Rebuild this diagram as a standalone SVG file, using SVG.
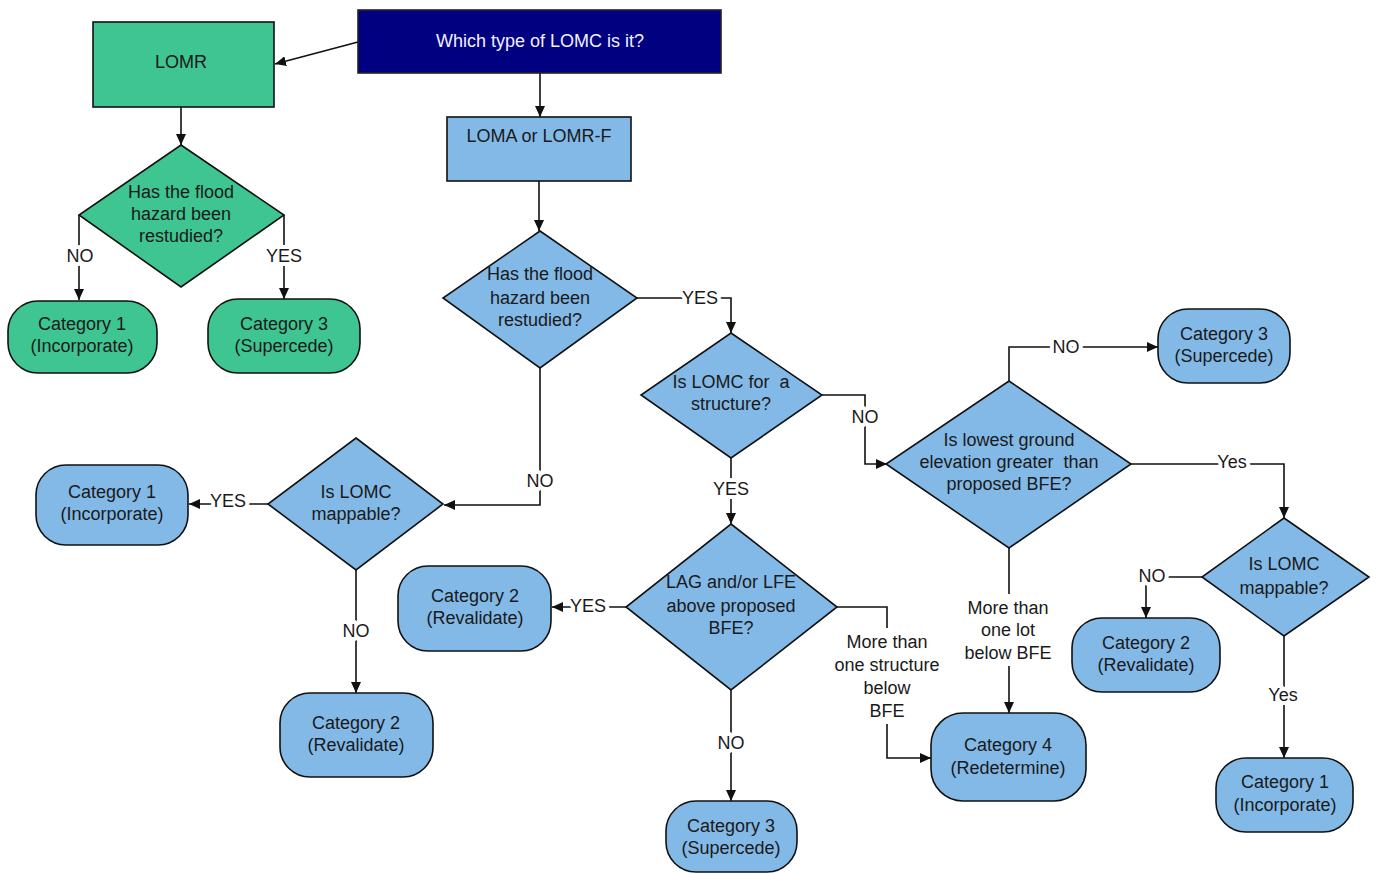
<svg xmlns="http://www.w3.org/2000/svg" width="1377" height="873" viewBox="0 0 1377 873">
<style>
.t{font-family:"Liberation Sans",Arial,sans-serif;font-size:18px;fill:#1a1a1a;text-anchor:middle}
.w{fill:#f0f0ff}
.g{fill:#3fc592;stroke:#111;stroke-width:1.6}
.b{fill:#83b9e7;stroke:#111;stroke-width:1.6}
.n{fill:#000080;stroke:#222;stroke-width:1.6}
.c{fill:none;stroke:#111;stroke-width:1.6}
.bg{fill:#fff}
.l{font-family:"Liberation Sans",Arial,sans-serif;font-size:18px;fill:#1a1a1a;text-anchor:middle;stroke:#fff;stroke-width:8;paint-order:stroke;stroke-linejoin:round}
</style>
<defs>
<marker id="a" markerUnits="userSpaceOnUse" markerWidth="11" markerHeight="10" refX="11" refY="5" orient="auto">
<path d="M0,0 L11,5 L0,10 z" fill="#111"/>
</marker>
</defs>
<rect width="1377" height="873" fill="#fff"/>
<g id="connectors">
<path class="c" d="M358,42 L275,64" marker-end="url(#a)"/>
<path class="c" d="M540,73 L540,117" marker-end="url(#a)"/>
<path class="c" d="M181,107 L181,145" marker-end="url(#a)"/>
<path class="c" d="M79,215 L79,300" marker-end="url(#a)"/>
<text class="l" x="80" y="262">NO</text>
<path class="c" d="M284,215 L284,299" marker-end="url(#a)"/>
<text class="l" x="284" y="262">YES</text>
<path class="c" d="M539,181 L539,231" marker-end="url(#a)"/>
<path class="c" d="M637,298 L731,298 L731,333" marker-end="url(#a)"/>
<text class="l" x="700" y="304">YES</text>
<path class="c" d="M540,368 L540,505 L444,505" marker-end="url(#a)"/>
<text class="l" x="540" y="487">NO</text>
<path class="c" d="M822,395 L865,395 L865,464 L887,464" marker-end="url(#a)"/>
<text class="l" x="865" y="423">NO</text>
<path class="c" d="M731,458 L731,524" marker-end="url(#a)"/>
<text class="l" x="731" y="495">YES</text>
<path class="c" d="M268,504 L189,504" marker-end="url(#a)"/>
<text class="l" x="228" y="507">YES</text>
<path class="c" d="M356,570 L356,693" marker-end="url(#a)"/>
<text class="l" x="356" y="637">NO</text>
<path class="c" d="M626,607 L552,607" marker-end="url(#a)"/>
<text class="l" x="588" y="612">YES</text>
<path class="c" d="M731,690 L731,801" marker-end="url(#a)"/>
<text class="l" x="731" y="749">NO</text>
<path class="c" d="M837,607 L887,607 L887,758 L931,758" marker-end="url(#a)"/>
<rect class="bg" x="832" y="628" width="112" height="96"/>
<text class="t" x="887" y="648">More than</text>
<text class="t" x="887" y="671">one structure</text>
<text class="t" x="887" y="694">below</text>
<text class="t" x="887" y="717">BFE</text>
<path class="c" d="M1009,381 L1009,347 L1158,347" marker-end="url(#a)"/>
<text class="l" x="1066" y="353">NO</text>
<path class="c" d="M1131,464 L1284,464 L1284,518" marker-end="url(#a)"/>
<text class="l" x="1232" y="468">Yes</text>
<path class="c" d="M1009,548 L1009,713" marker-end="url(#a)"/>
<rect class="bg" x="958" y="594" width="100" height="72"/>
<text class="t" x="1008" y="614">More than</text>
<text class="t" x="1008" y="636">one lot</text>
<text class="t" x="1008" y="659">below BFE</text>
<path class="c" d="M1202,577 L1146,577 L1146,618" marker-end="url(#a)"/>
<text class="l" x="1152" y="582">NO</text>
<path class="c" d="M1284,636 L1284,758" marker-end="url(#a)"/>
<text class="l" x="1283" y="701">Yes</text>
</g>
<g id="start">
<rect class="n" x="358" y="10" width="363" height="63"/>
<text class="t w" x="540" y="47">Which type of LOMC is it?</text>
</g>
<g id="lomr">
<rect class="g" x="93" y="22" width="181" height="85"/>
<text class="t" x="181" y="68">LOMR</text>
</g>
<g id="lomr-q">
<polygon class="g" points="181,145 284,215 181,287 79,215"/>
<text class="t" x="181" y="198">Has the flood</text>
<text class="t" x="181" y="220">hazard been</text>
<text class="t" x="181" y="242">restudied?</text>
</g>
<g id="lomr-cat1">
<rect class="g" x="8" y="301" width="149" height="72" rx="30" ry="30"/>
<text class="t" x="82" y="330">Category 1</text>
<text class="t" x="82" y="352">(Incorporate)</text>
</g>
<g id="lomr-cat3">
<rect class="g" x="208" y="299" width="152" height="74" rx="30" ry="30"/>
<text class="t" x="284" y="330">Category 3</text>
<text class="t" x="284" y="352">(Supercede)</text>
</g>
<g id="loma">
<rect class="b" x="447" y="117" width="184" height="64"/>
<text class="t" x="539" y="142">LOMA or LOMR-F</text>
</g>
<g id="loma-q">
<polygon class="b" points="540,231 637,298 540,368 443,298"/>
<text class="t" x="540" y="280">Has the flood</text>
<text class="t" x="540" y="304">hazard been</text>
<text class="t" x="540" y="326">restudied?</text>
</g>
<g id="structure-q">
<polygon class="b" points="731,333 822,395 731,458 641,395"/>
<text class="t" x="731" y="388" xml:space="preserve">Is LOMC for  a</text>
<text class="t" x="731" y="410">structure?</text>
</g>
<g id="mappable-left">
<polygon class="b" points="356,438 443,504 356,570 268,504"/>
<text class="t" x="356" y="498">Is LOMC</text>
<text class="t" x="356" y="520">mappable?</text>
</g>
<g id="left-cat1">
<rect class="b" x="36" y="465" width="152" height="80" rx="30" ry="30"/>
<text class="t" x="112" y="498">Category 1</text>
<text class="t" x="112" y="520">(Incorporate)</text>
</g>
<g id="left-cat2">
<rect class="b" x="280" y="693" width="153" height="84" rx="30" ry="30"/>
<text class="t" x="356" y="729">Category 2</text>
<text class="t" x="356" y="751">(Revalidate)</text>
</g>
<g id="lag-q">
<polygon class="b" points="731,524 837,607 731,690 626,607"/>
<text class="t" x="731" y="588">LAG and/or LFE</text>
<text class="t" x="731" y="612">above proposed</text>
<text class="t" x="731" y="634">BFE?</text>
</g>
<g id="mid-cat2">
<rect class="b" x="398" y="566" width="153" height="85" rx="30" ry="30"/>
<text class="t" x="475" y="602">Category 2</text>
<text class="t" x="475" y="624">(Revalidate)</text>
</g>
<g id="mid-cat3">
<rect class="b" x="666" y="801" width="131" height="71" rx="30" ry="30"/>
<text class="t" x="731" y="832">Category 3</text>
<text class="t" x="731" y="854">(Supercede)</text>
</g>
<g id="lowest-q">
<polygon class="b" points="1009,381 1131,464 1009,548 886,464"/>
<text class="t" x="1009" y="446">Is lowest ground</text>
<text class="t" x="1009" y="468" xml:space="preserve">elevation greater  than</text>
<text class="t" x="1009" y="490">proposed BFE?</text>
</g>
<g id="right-cat3">
<rect class="b" x="1158" y="309" width="132" height="74" rx="30" ry="30"/>
<text class="t" x="1224" y="340">Category 3</text>
<text class="t" x="1224" y="362">(Supercede)</text>
</g>
<g id="cat4">
<rect class="b" x="931" y="713" width="155" height="88" rx="32" ry="32"/>
<text class="t" x="1008" y="751">Category 4</text>
<text class="t" x="1008" y="774">(Redetermine)</text>
</g>
<g id="mappable-right">
<polygon class="b" points="1284,518 1369,577 1284,636 1202,577"/>
<text class="t" x="1284" y="570">Is LOMC</text>
<text class="t" x="1284" y="594">mappable?</text>
</g>
<g id="right-cat2">
<rect class="b" x="1072" y="618" width="148" height="74" rx="30" ry="30"/>
<text class="t" x="1146" y="649">Category 2</text>
<text class="t" x="1146" y="671">(Revalidate)</text>
</g>
<g id="right-cat1">
<rect class="b" x="1216" y="758" width="137" height="74" rx="30" ry="30"/>
<text class="t" x="1285" y="788">Category 1</text>
<text class="t" x="1285" y="811">(Incorporate)</text>
</g>
</svg>
